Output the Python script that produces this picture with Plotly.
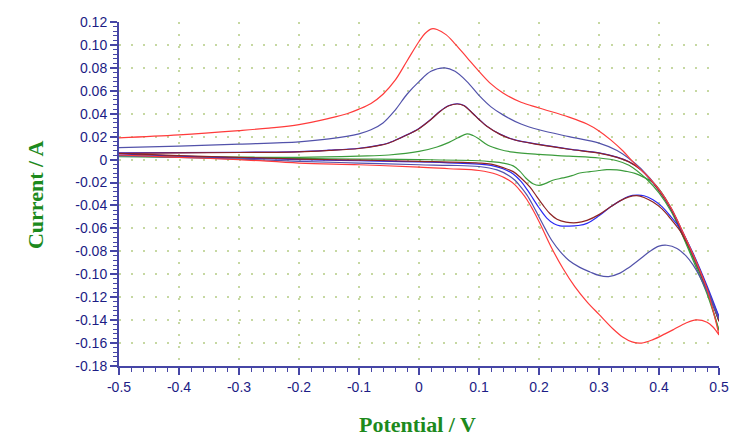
import plotly.graph_objects as go

# ---- data ----
# forward (anodic) sweeps, -0.5 -> 0.5 V
red_fx = [-0.5, -0.4, -0.3, -0.25, -0.2, -0.15, -0.12, -0.1, -0.08, -0.06, -0.04, -0.02, 0.0, 0.01, 0.021, 0.03, 0.045, 0.06, 0.08, 0.1, 0.12, 0.14, 0.17, 0.2, 0.25, 0.28, 0.3, 0.32, 0.34, 0.36, 0.38, 0.4, 0.42, 0.435, 0.457, 0.48, 0.5]
red_fy = [0.019, 0.0216, 0.0253, 0.0275, 0.0305, 0.036, 0.040, 0.044, 0.049, 0.057, 0.069, 0.086, 0.103, 0.110, 0.114, 0.1135, 0.109, 0.101, 0.089, 0.077, 0.066, 0.058, 0.050, 0.045, 0.037, 0.031, 0.025, 0.017, 0.0075, -0.004, -0.014, -0.026, -0.042, -0.058, -0.083, -0.113, -0.153]

slate_fx = [-0.5, -0.4, -0.3, -0.2, -0.15, -0.1, -0.08, -0.06, -0.04, -0.02, 0.0, 0.02, 0.043, 0.06, 0.08, 0.1, 0.12, 0.14, 0.17, 0.2, 0.25, 0.3, 0.33, 0.35, 0.37, 0.4, 0.42, 0.435, 0.457, 0.48, 0.5]
slate_fy = [0.0105, 0.0118, 0.0135, 0.0155, 0.018, 0.0225, 0.026, 0.032, 0.043, 0.057, 0.068, 0.077, 0.080, 0.077, 0.068, 0.056, 0.046, 0.039, 0.031, 0.026, 0.020, 0.0144, 0.008, 0.001, -0.008, -0.026, -0.042, -0.058, -0.083, -0.112, -0.139]

brown_fx = [-0.5, -0.4, -0.3, -0.2, -0.15, -0.1, -0.07, -0.05, -0.03, -0.01, 0.0, 0.02, 0.035, 0.05, 0.064, 0.075, 0.09, 0.1, 0.113, 0.135, 0.157, 0.2, 0.25, 0.3, 0.33, 0.35, 0.37, 0.4, 0.42, 0.435, 0.457, 0.48, 0.5]
brown_fy = [0.0055, 0.0058, 0.0062, 0.0068, 0.008, 0.0097, 0.012, 0.0145, 0.019, 0.024, 0.027, 0.035, 0.042, 0.047, 0.0485, 0.047, 0.040, 0.035, 0.029, 0.022, 0.0175, 0.013, 0.009, 0.0057, 0.002, -0.002, -0.009, -0.027, -0.043, -0.059, -0.084, -0.113, -0.141]

blue_fx = [-0.5, -0.4, -0.3, -0.2, -0.15, -0.1, -0.07, -0.05, -0.03, -0.01, 0.0, 0.02, 0.035, 0.05, 0.064, 0.075, 0.09, 0.1, 0.113, 0.135, 0.157, 0.2, 0.25, 0.3, 0.33, 0.35, 0.37, 0.4, 0.42, 0.435, 0.457, 0.48, 0.5]
blue_fy = [0.0058, 0.006, 0.0064, 0.007, 0.0082, 0.0099, 0.0122, 0.0147, 0.0192, 0.0242, 0.0272, 0.0352, 0.0422, 0.0472, 0.0487, 0.0472, 0.0402, 0.0352, 0.0292, 0.0222, 0.0177, 0.0132, 0.0092, 0.0059, 0.0022, -0.0018, -0.0088, -0.0268, -0.0428, -0.0588, -0.0838, -0.1128, -0.137]

green_fx = [-0.5, -0.4, -0.3, -0.2, -0.1, -0.05, 0.0, 0.03, 0.05, 0.065, 0.08, 0.09, 0.1, 0.115, 0.135, 0.157, 0.2, 0.25, 0.3, 0.33, 0.35, 0.38, 0.4, 0.42, 0.435, 0.457, 0.48, 0.5]
green_fy = [0.0034, 0.0028, 0.0022, 0.0019, 0.003, 0.004, 0.0071, 0.011, 0.015, 0.019, 0.0225, 0.021, 0.018, 0.0125, 0.0088, 0.0065, 0.0045, 0.003, 0.0014, -0.001, -0.005, -0.0174, -0.029, -0.045, -0.061, -0.086, -0.115, -0.149]

# reverse (cathodic) sweeps, 0.5 -> -0.5 V
red_rx = [0.5, 0.49, 0.48, 0.462, 0.445, 0.425, 0.41, 0.39, 0.371, 0.355, 0.34, 0.324, 0.3, 0.28, 0.26, 0.24, 0.22, 0.2, 0.19, 0.18, 0.17, 0.16, 0.15, 0.13, 0.1, 0.05, 0.0, -0.1, -0.2, -0.3, -0.4, -0.5]
red_ry = [-0.153, -0.146, -0.1418, -0.1398, -0.1425, -0.148, -0.152, -0.157, -0.160, -0.159, -0.155, -0.148, -0.135, -0.124, -0.111, -0.095, -0.076, -0.054, -0.044, -0.035, -0.028, -0.022, -0.018, -0.013, -0.0095, -0.008, -0.0065, -0.0045, -0.003, 0.0, 0.002, 0.004]

slate_rx = [0.5, 0.49, 0.48, 0.467, 0.457, 0.445, 0.43, 0.413, 0.4, 0.385, 0.37, 0.35, 0.335, 0.316, 0.3, 0.285, 0.268, 0.25, 0.235, 0.222, 0.21, 0.2, 0.19, 0.18, 0.17, 0.16, 0.15, 0.13, 0.1, 0.05, 0.0, -0.1, -0.2, -0.3, -0.4, -0.5]
slate_ry = [-0.139, -0.127, -0.115, -0.101, -0.092, -0.084, -0.0775, -0.0747, -0.0755, -0.080, -0.086, -0.094, -0.099, -0.102, -0.101, -0.098, -0.094, -0.088, -0.080, -0.071, -0.060, -0.050, -0.040, -0.031, -0.024, -0.018, -0.014, -0.009, -0.006, -0.005, -0.0045, -0.003, -0.0015, 0.0005, 0.002, 0.0035]

brown_rx = [0.5, 0.48, 0.457, 0.445, 0.435, 0.42, 0.405, 0.39, 0.375, 0.363, 0.35, 0.335, 0.32, 0.3, 0.28, 0.263, 0.245, 0.23, 0.218, 0.207, 0.196, 0.185, 0.17, 0.157, 0.14, 0.12, 0.1, 0.0, -0.1, -0.2, -0.3, -0.4, -0.5]
brown_ry = [-0.141, -0.112, -0.083, -0.071, -0.062, -0.052, -0.043, -0.037, -0.033, -0.0315, -0.0325, -0.036, -0.041, -0.048, -0.053, -0.055, -0.0545, -0.052, -0.047, -0.040, -0.032, -0.024, -0.016, -0.0105, -0.007, -0.004, -0.003, -0.0015, -0.0005, 0.0005, 0.002, 0.0035, 0.0055]

blue_rx = [0.5, 0.48, 0.457, 0.435, 0.42, 0.405, 0.39, 0.375, 0.363, 0.35, 0.335, 0.32, 0.3, 0.28, 0.265, 0.25, 0.235, 0.225, 0.213, 0.2, 0.19, 0.18, 0.17, 0.157, 0.14, 0.12, 0.1, 0.0, -0.1, -0.2, -0.3, -0.4, -0.5]
blue_ry = [-0.137, -0.110, -0.082, -0.060, -0.050, -0.041, -0.035, -0.0315, -0.031, -0.032, -0.036, -0.041, -0.049, -0.0556, -0.0575, -0.058, -0.0578, -0.056, -0.051, -0.042, -0.034, -0.026, -0.019, -0.0125, -0.008, -0.005, -0.004, -0.002, -0.001, 0.0, 0.0015, 0.003, 0.005]

green_rx = [0.5, 0.48, 0.457, 0.435, 0.42, 0.402, 0.39, 0.375, 0.36, 0.345, 0.33, 0.313, 0.3, 0.285, 0.268, 0.255, 0.24, 0.223, 0.21, 0.2, 0.19, 0.178, 0.168, 0.157, 0.14, 0.12, 0.1, 0.0, -0.1, -0.2, -0.3, -0.4, -0.5]
green_ry = [-0.149, -0.117, -0.088, -0.061, -0.043, -0.027, -0.020, -0.0155, -0.012, -0.0102, -0.009, -0.0088, -0.0095, -0.0105, -0.0117, -0.014, -0.016, -0.018, -0.021, -0.0224, -0.021, -0.016, -0.010, -0.0055, -0.003, -0.0018, -0.001, 0.0, 0.0005, 0.001, 0.0015, 0.002, 0.0025]

x_ticks = [-0.5, -0.4, -0.3, -0.2, -0.1, 0.0, 0.1, 0.2, 0.3, 0.4, 0.5]
x_labels = ["-0.5", "-0.4", "-0.3", "-0.2", "-0.1", "0", "0.1", "0.2", "0.3", "0.4", "0.5"]
y_ticks = [0.12, 0.10, 0.08, 0.06, 0.04, 0.02, 0.0, -0.02, -0.04, -0.06, -0.08, -0.10, -0.12, -0.14, -0.16, -0.18]
y_labels = ["0.12", "0.10", "0.08", "0.06", "0.04", "0.02", "0", "-0.02", "-0.04", "-0.06", "-0.08", "-0.10", "-0.12", "-0.14", "-0.16", "-0.18"]

# ---- styles ----
AXIS = "#4646a6"
TICKFONT = dict(family="Liberation Sans, Arial, sans-serif", size=14, color="#1c1c85")
GRID = "#c6d8a2"
TITLE_GREEN = "#1d8a1d"

series = [
    (green_fx, green_fy, green_rx, green_ry, "#3c9c3c"),
    (blue_fx, blue_fy, blue_rx, blue_ry, "#2a2af2"),
    (brown_fx, brown_fy, brown_rx, brown_ry, "#8e2424"),
    (slate_fx, slate_fy, slate_rx, slate_ry, "#5252aa"),
    (red_fx, red_fy, red_rx, red_ry, "#ff3b3b"),
]

fig = go.Figure()
for fx, fy, rx, ry, col in series:
    for xs, ys in ((fx, fy), (rx, ry)):
        fig.add_trace(go.Scatter(x=xs, y=ys, mode="lines",
                                 line=dict(color=col, width=1.2, shape="spline", smoothing=1.0),
                                 showlegend=False, hoverinfo="skip"))

minor_common = dict(tickcolor=AXIS, tickwidth=1.2, showgrid=False, ticklen=4)

# the page body adds an 8px offset, so the figure is 8px smaller than the window
fig.update_layout(
    width=746, height=428,
    margin=dict(l=111, r=35, t=14, b=70, autoexpand=False),
    paper_bgcolor="white", plot_bgcolor="white",
    showlegend=False,
    xaxis=dict(range=[-0.5, 0.5], tickvals=x_ticks, ticktext=x_labels, automargin=False,
               ticks="outside", ticklen=7, tickwidth=1.5, tickcolor=AXIS,
               showline=True, linecolor=AXIS, linewidth=2,
               showgrid=True, gridcolor=GRID, griddash="2px,10px", gridwidth=1.5,
               zeroline=False, tickfont=TICKFONT,
               minor=dict(dtick=0.02, ticks="outside", **minor_common)),
    yaxis=dict(range=[-0.18, 0.12], tickvals=y_ticks, ticktext=y_labels, automargin=False,
               ticks="outside", ticklen=7, tickwidth=1.5, tickcolor=AXIS,
               showline=True, linecolor=AXIS, linewidth=2,
               showgrid=True, gridcolor=GRID, griddash="2px,10px", gridwidth=1.5,
               zeroline=False, tickfont=TICKFONT,
               minor=dict(dtick=0.004, ticks="outside", **minor_common)),
    xaxis2=dict(range=[-0.5, 0.5], overlaying="x", side="top", anchor="y", automargin=False,
                tickvals=x_ticks, showticklabels=False,
                ticks="inside", ticklen=7, tickwidth=1.5, tickcolor=AXIS,
                showline=True, linecolor=AXIS, linewidth=2, showgrid=False, zeroline=False,
                minor=dict(dtick=0.02, ticks="inside", **minor_common)),
    yaxis2=dict(range=[-0.18, 0.12], overlaying="y", side="right", anchor="x", automargin=False,
                tickvals=y_ticks, showticklabels=False,
                ticks="inside", ticklen=7, tickwidth=1.5, tickcolor=AXIS,
                showline=True, linecolor=AXIS, linewidth=2, showgrid=False, zeroline=False,
                minor=dict(dtick=0.005, ticks="inside", **minor_common)),
    annotations=[
        dict(text="<b>Current / A</b>", xref="paper", yref="paper", x=-0.14, y=0.497,
             textangle=-90, showarrow=False, xanchor="center", yanchor="middle",
             font=dict(family="Liberation Serif, Times New Roman, serif", size=22, color=TITLE_GREEN)),
        dict(text="<b>Potential / V</b>", xref="paper", yref="paper", x=0.498, y=-0.1715,
             showarrow=False, xanchor="center", yanchor="middle",
             font=dict(family="Liberation Serif, Times New Roman, serif", size=22, color=TITLE_GREEN)),
    ],
)

fig.write_html("out.html")
